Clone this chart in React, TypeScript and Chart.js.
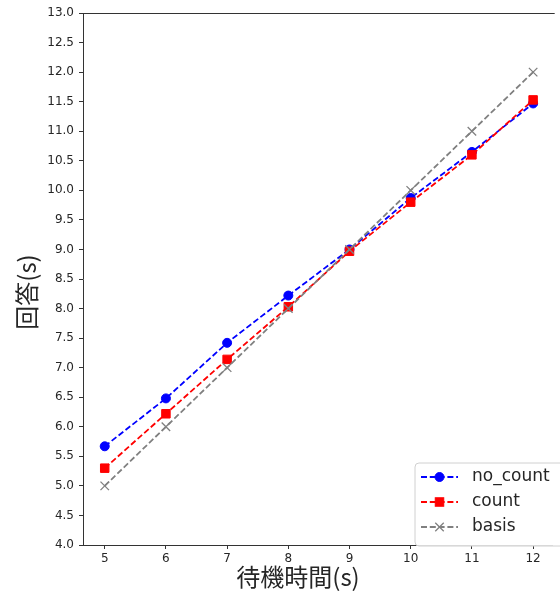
import React, { useEffect, useRef } from "react";
import { Chart, registerables } from "chart.js";

Chart.register(...registerables);

const waitTimes = [5, 6, 7, 8, 9, 10, 11, 12];
const noCountValues = [5.67, 6.48, 7.42, 8.22, 9.0, 9.87, 10.65, 11.47];
const countValues = [5.3, 6.22, 7.14, 8.03, 8.97, 9.8, 10.6, 11.53];
const basisValues = [5, 6, 7, 8, 9, 10, 11, 12];
const seriesNames = ["no_count", "count", "basis"];
const xTitle = "待機時間(s)";
const yTitle = "回答(s)";

const TICK_FONT = { family: "'DejaVu Sans', sans-serif", size: 12 };
const TEXT_COLOR = "#262626";
const LINE_W = 1.8;
const DASH = [6, 2.8];

const framePlugin = {
  id: "frameAndTitles",
  afterDraw(chart: any) {
    const { ctx, chartArea } = chart;
    ctx.save();
    // top spine
    ctx.strokeStyle = "#333";
    ctx.lineWidth = 1;
    ctx.beginPath();
    ctx.moveTo(chartArea.left, chartArea.top + 0.5);
    ctx.lineTo(chartArea.right + 2, chartArea.top + 0.5);
    ctx.stroke();

    // axis titles
    ctx.fillStyle = TEXT_COLOR;
    ctx.font = "24px 'Noto Sans CJK JP', sans-serif";
    ctx.textAlign = "center";
    ctx.textBaseline = "middle";
    ctx.fillText(xTitle, 298, 577);
    ctx.save();
    ctx.translate(27, 292);
    ctx.rotate(-Math.PI / 2);
    ctx.fillText(yTitle, 0, 0);
    ctx.restore();

    // legend
    const bx = 415, by = 463, bw = 150, bh = 83, r = 4;
    ctx.beginPath();
    ctx.moveTo(bx + r, by);
    ctx.lineTo(bx + bw - r, by);
    ctx.arcTo(bx + bw, by, bx + bw, by + r, r);
    ctx.lineTo(bx + bw, by + bh - r);
    ctx.arcTo(bx + bw, by + bh, bx + bw - r, by + bh, r);
    ctx.lineTo(bx + r, by + bh);
    ctx.arcTo(bx, by + bh, bx, by + bh - r, r);
    ctx.lineTo(bx, by + r);
    ctx.arcTo(bx, by, bx + r, by, r);
    ctx.closePath();
    ctx.fillStyle = "rgba(255,255,255,0.85)";
    ctx.fill();
    ctx.strokeStyle = "#d0d0d0";
    ctx.lineWidth = 1;
    ctx.stroke();

    const ys = [477, 502, 527];
    chart.data.datasets.forEach((ds: any, i: number) => {
      const y = ys[i];
      ctx.save();
      ctx.strokeStyle = ds.borderColor;
      ctx.lineWidth = ds.borderWidth;
      ctx.setLineDash(ds.borderDash);
      ctx.beginPath();
      ctx.moveTo(421, y);
      ctx.lineTo(458, y);
      ctx.stroke();
      ctx.setLineDash([]);
      ctx.fillStyle = ds.pointBackgroundColor;
      ctx.strokeStyle = ds.pointBorderColor;
      ctx.lineWidth = ds.pointBorderWidth;
      if (ds.pointStyle === "circle") {
        ctx.beginPath();
        ctx.arc(439.5, y, ds.pointRadius, 0, Math.PI * 2);
        ctx.fill();
        ctx.stroke();
      } else if (ds.pointStyle === "rect") {
        const s = ds.pointRadius * Math.SQRT1_2;
        ctx.fillRect(439.5 - s, y - s, 2 * s, 2 * s);
        ctx.strokeRect(439.5 - s, y - s, 2 * s, 2 * s);
      } else {
        const o = ds.pointRadius * Math.SQRT1_2;
        ctx.beginPath();
        ctx.moveTo(439.5 - o, y - o);
        ctx.lineTo(439.5 + o, y + o);
        ctx.moveTo(439.5 - o, y + o);
        ctx.lineTo(439.5 + o, y - o);
        ctx.stroke();
      }
      ctx.restore();
      ctx.fillStyle = TEXT_COLOR;
      ctx.font = "17px 'DejaVu Sans', sans-serif";
      ctx.textAlign = "left";
      ctx.textBaseline = "middle";
      ctx.fillText(seriesNames[i], 472, y);
    });
    ctx.restore();
  },
};

export default function App() {
  const canvasRef = useRef<HTMLCanvasElement | null>(null);

  useEffect(() => {
    if (!canvasRef.current) return;
    const mk = (vals: number[]) => waitTimes.map((x, i) => ({ x, y: vals[i] }));
    const chart = new Chart(canvasRef.current, {
      type: "line",
      data: {
        datasets: [
          {
            label: seriesNames[0],
            data: mk(noCountValues),
            borderColor: "#0000ff",
            backgroundColor: "#0000ff",
            borderWidth: LINE_W,
            borderDash: DASH,
            pointStyle: "circle",
            pointRadius: 4.5,
            pointBackgroundColor: "#0000ff",
            pointBorderColor: "#0000ff",
            pointBorderWidth: 1,
            order: 3,
          },
          {
            label: seriesNames[1],
            data: mk(countValues),
            borderColor: "#ff0000",
            backgroundColor: "#ff0000",
            borderWidth: LINE_W,
            borderDash: DASH,
            pointStyle: "rect",
            pointRadius: 6,
            pointBackgroundColor: "#ff0000",
            pointBorderColor: "#ff0000",
            pointBorderWidth: 1,
            order: 2,
          },
          {
            label: seriesNames[2],
            data: mk(basisValues),
            borderColor: "#808080",
            backgroundColor: "#808080",
            borderWidth: LINE_W,
            borderDash: DASH,
            pointStyle: "crossRot",
            pointRadius: 6,
            pointBackgroundColor: "#808080",
            pointBorderColor: "#808080",
            pointBorderWidth: 1.3,
            order: 1,
          },
        ] as any,
      },
      options: {
        animation: false,
        responsive: false,
        devicePixelRatio: 1,
        layout: { padding: { top: 13, right: 1, left: 0, bottom: 0 } },
        plugins: { legend: { display: false }, tooltip: { enabled: false } },
        elements: { line: { tension: 0 } },
        scales: {
          x: {
            type: "linear",
            min: 4.645,
            max: 12.32,
            afterFit: (s: any) => {
              s.height = 49;
            },
            afterBuildTicks: (s: any) => {
              s.ticks = waitTimes.map((v) => ({ value: v }));
            },
            ticks: {
              font: TICK_FONT,
              color: TEXT_COLOR,
              padding: 3,
              maxRotation: 0,
              callback: (v: any) => String(v),
            },
            grid: {
              display: true,
              drawOnChartArea: false,
              drawTicks: true,
              tickLength: 4,
              color: "#333",
            },
            border: { display: true, color: "#333", width: 1 },
          },
          y: {
            type: "linear",
            min: 4,
            max: 13,
            afterFit: (s: any) => {
              s.width = 83;
            },
            ticks: {
              stepSize: 0.5,
              font: TICK_FONT,
              color: TEXT_COLOR,
              padding: 5,
              callback: (v: any) => Number(v).toFixed(1),
            },
            grid: {
              display: true,
              drawOnChartArea: false,
              drawTicks: true,
              tickLength: 4,
              color: "#333",
            },
            border: { display: true, color: "#333", width: 1 },
          },
        },
      },
      plugins: [framePlugin],
    });
    return () => chart.destroy();
  }, []);

  return (
    <div style={{ position: "absolute", left: 0, top: 0, width: 560, height: 594, background: "#fff" }}>
      <canvas ref={canvasRef} width={560} height={594} style={{ display: "block" }} />
    </div>
  );
}
